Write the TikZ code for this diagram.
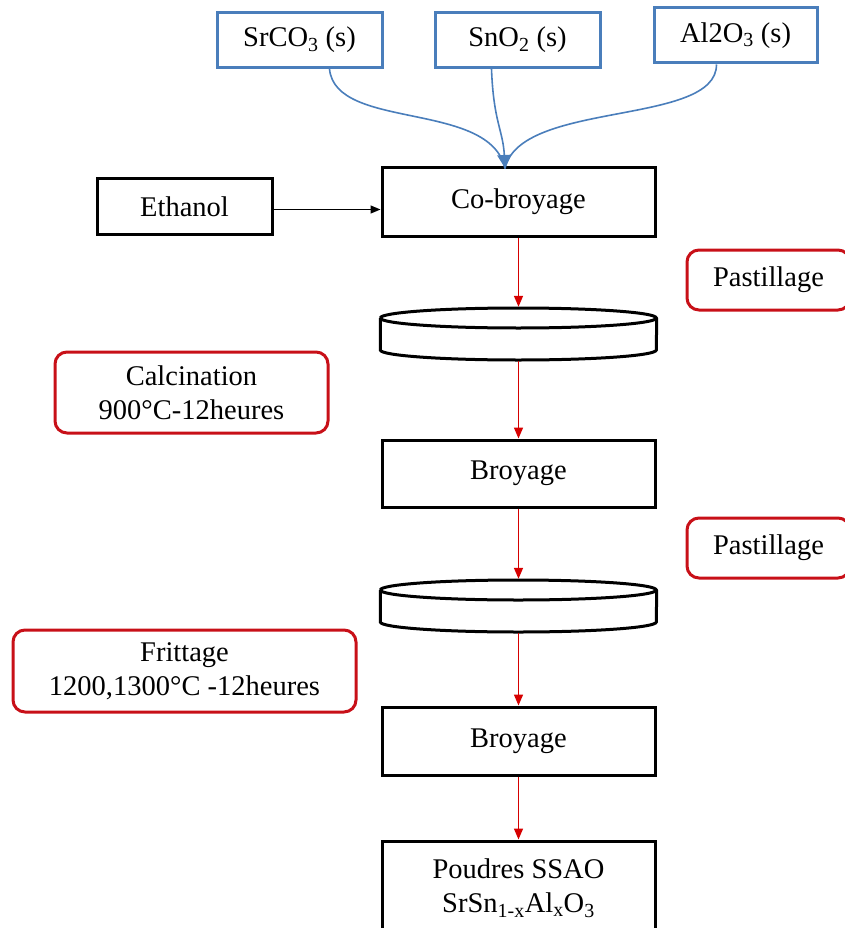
\documentclass[tikz,border=0pt]{standalone}
\usepackage{fontspec}
\setmainfont{Liberation Serif}
\usetikzlibrary{arrows.meta}
\definecolor{bblue}{RGB}{74,126,187}
\definecolor{rred}{RGB}{200,16,24}
\definecolor{ared}{RGB}{214,0,0}
\begin{document}
\begin{tikzpicture}[x=1pt,y=-1pt,
  font=\fontsize{28.5}{34}\selectfont,
  bluebox/.style={draw=bblue, line width=3pt, inner sep=0pt, minimum width=165pt, minimum height=55pt},
  blackbox/.style={draw=black, line width=3pt, inner sep=0pt, minimum width=273pt, minimum height=68pt, align=center},
  redbox/.style={draw=rred, line width=3pt, rounded corners=12pt, inner sep=0pt, align=center},
  disk/.style={draw=none, inner sep=0pt, minimum width=276pt, minimum height=52pt},
  diskline/.style={draw=black, line width=3pt},
  redarrow/.style={draw=ared, line width=1.5pt, -{Triangle[length=11pt,width=9pt]}},
  bluecurve/.style={draw=bblue, line width=1.6pt},
]
\useasboundingbox (0,0) rectangle (844,928);
% top inputs
\node[bluebox] (sr) at (299.5,40) {SrCO\textsubscript{3} (s)};
\node[bluebox] (sn) at (517.5,40) {SnO\textsubscript{2} (s)};
\node[bluebox, minimum width=163pt] (al) at (735.5,35.5) {Al2O\textsubscript{3} (s)};
% main column
\node[blackbox, minimum width=175pt, minimum height=55pt] (eth) at (184.5,206.5) {Ethanol};
\node[blackbox] (cob) at (518.5,202) {Co-broyage};
\node[disk] (d1) at (518.5,334) {};
\node[blackbox, minimum height=67pt] (b1) at (518.5,473.5) {Broyage};
\node[disk] (d2) at (518.5,606) {};
\node[blackbox] (b2) at (518.5,741) {Broyage};
\node[blackbox, minimum height=94pt] (pou) at (518.5,888) {Poudres SSAO\\SrSn\textsubscript{1-x}Al\textsubscript{x}O\textsubscript{3}};
% side labels
\node[redbox, minimum width=163pt, minimum height=60pt] (p1) at (768.5,280) {Pastillage};
\node[redbox, minimum width=163pt, minimum height=60pt] (p2) at (768.5,548) {Pastillage};
\node[redbox, minimum width=273pt, minimum height=81pt] (cal) at (191.5,392.5) {Calcination\\900°C-12heures};
\node[redbox, minimum width=343pt, minimum height=82pt] (fri) at (184.5,671) {Frittage\\1200,1300°C -12heures};
% disks
\draw[diskline] (d1.west) ++(0,-16) arc[start angle=180, end angle=-180, x radius=138pt, y radius=10pt];
\draw[diskline] ([yshift=16pt]d1.west) -- ([yshift=-16pt]d1.west)
  arc[start angle=180, end angle=360, x radius=138pt, y radius=10pt] -- ([yshift=16pt]d1.east);
\draw[diskline] (d2.west) ++(0,-16) arc[start angle=180, end angle=-180, x radius=138pt, y radius=10pt];
\draw[diskline] ([yshift=16pt]d2.west) -- ([yshift=-16pt]d2.west)
  arc[start angle=180, end angle=360, x radius=138pt, y radius=10pt] -- ([yshift=16pt]d2.east);
% blue curves
\coordinate (conv) at (cob.north -| 505,0);
\draw[bluecurve] ([xshift=30pt]sr.south) .. controls +(6,62) and (490,100) .. ([yshift=-2pt]conv);
\draw[bluecurve] ([xshift=-19pt]al.south) .. controls +(0,62) and (520,100) .. ([yshift=-2pt]conv);
\draw[bluecurve, -{Triangle[length=13pt,width=14pt]}] ([xshift=-26pt]sn.south) .. controls +(2,53) and (503,130) .. ([yshift=-1.5pt]conv);
% ethanol arrow
\draw[black, line width=1.3pt, -{Triangle[length=10pt,width=8pt]}] ([yshift=-3pt]eth.east) -- ([yshift=-3pt]eth.east -| cob.west);
% red arrows
\draw[redarrow] (cob.south) -- ([yshift=1pt]d1.north);
\draw[redarrow] ([yshift=-1pt]d1.south) -- (b1.north);
\draw[redarrow] (b1.south) -- ([yshift=1pt]d2.north);
\draw[redarrow] ([yshift=-1pt]d2.south) -- (b2.north);
\draw[redarrow] (b2.south) -- (pou.north);
\end{tikzpicture}
\end{document}
